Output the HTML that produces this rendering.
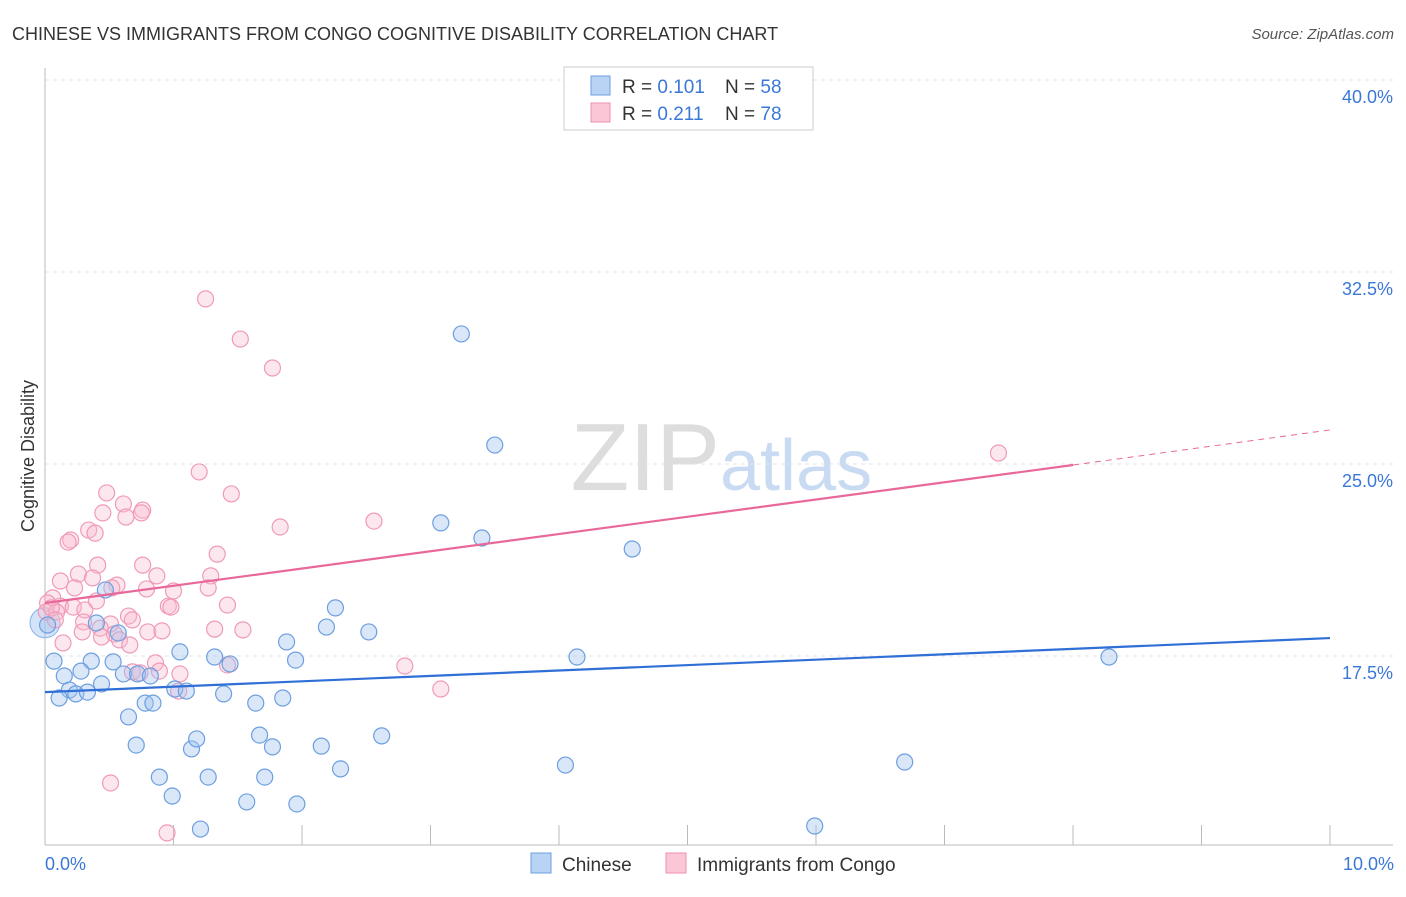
<!DOCTYPE html>
<html><head><meta charset="utf-8"><style>
body{margin:0;background:#fff;font-family:"Liberation Sans",sans-serif;}
svg text{font-family:"Liberation Sans",sans-serif;}
</style></head><body>
<svg id="chart" width="1406" height="892">
<text x="12" y="40" font-size="18" fill="#333">CHINESE VS IMMIGRANTS FROM CONGO COGNITIVE DISABILITY CORRELATION CHART</text>
<text x="1394" y="39" font-size="15" fill="#555" font-style="italic" text-anchor="end">Source: ZipAtlas.com</text>
<text x="720" y="490" font-size="96" fill="#ddd" font-family="Liberation Serif" text-anchor="end">ZIP</text>
<text x="720" y="490" font-size="72" fill="#c9dbf2">atlas</text>
<text transform="translate(34,456) rotate(-90)" font-size="18" fill="#333" text-anchor="middle">Cognitive Disability</text>
<g id="grid"></g><g id="marks"></g>
<g>
<rect x="564" y="67" width="249" height="63" fill="#fff" stroke="#ccc"/>
<rect x="591" y="76" width="19" height="19" fill="#b9d3f5" stroke="#6d9fe0"/>
<rect x="591" y="103" width="19" height="19" fill="#fbc7d6" stroke="#ee8fb0"/>
<text x="622" y="93" font-size="19" fill="#333">R = <tspan fill="#3a78d8">0.101</tspan></text>
<text x="725" y="93" font-size="19" fill="#333">N = <tspan fill="#3a78d8">58</tspan></text>
<text x="622" y="120" font-size="19" fill="#333">R = <tspan fill="#3a78d8">0.211</tspan></text>
<text x="725" y="120" font-size="19" fill="#333">N = <tspan fill="#3a78d8">78</tspan></text>
</g>
<g>
<rect x="531" y="853" width="20" height="20" fill="#b9d3f5" stroke="#6d9fe0"/>
<text x="562" y="871" font-size="19" fill="#333">Chinese</text>
<rect x="666" y="853" width="20" height="20" fill="#fbc7d6" stroke="#ee8fb0"/>
<text x="697" y="871" font-size="19" fill="#333">Immigrants from Congo</text>
</g>
<text x="45" y="870" font-size="18" fill="#3a78d8">0.0%</text>
<text x="1394" y="870" font-size="18" fill="#3a78d8" text-anchor="end">10.0%</text>
</svg>
<script>
const yTicks=[40,32.5,25,17.5];
const yTickLabels=["40.0%","32.5%","25.0%","17.5%"];
const xTicks=[0,1,2,3,4,5,6,7,8,9,10];
const blueX=[3.24,3.50,3.08,3.40,4.57,8.28,4.14,2.26,2.19,2.52,1.88,1.95,.47,.40,.57,.07,.36,.53,.15,.28,.61,.72,.82,1.05,1.32,1.44,.19,.24,.33,.44,.11,1.01,1.10,1.39,1.64,1.85,.78,.84,.65,.71,1.14,1.18,1.67,1.77,2.15,2.62,.89,1.27,1.71,2.30,4.05,6.69,.99,1.57,1.96,1.21,5.99,.02];
const blueY=[30.08,25.74,22.70,22.11,21.68,17.46,17.46,19.38,18.63,18.44,18.05,17.34,20.08,18.79,18.40,17.30,17.30,17.27,16.72,16.91,16.80,16.80,16.72,17.66,17.46,17.19,16.17,16.02,16.09,16.41,15.86,16.21,16.13,16.02,15.66,15.86,15.66,15.66,15.12,14.02,13.87,14.26,14.41,13.95,13.98,14.38,12.77,12.77,12.77,13.09,13.24,13.36,12.03,11.80,11.72,10.74,10.86,18.71];
const pinkX=[1.25,1.52,1.77,7.42,1.20,1.45,.48,.61,.76,.45,.63,.75,2.56,1.83,.34,.39,.20,.18,1.34,.41,.76,.26,.87,1.29,.37,.12,.56,.52,.23,.79,1.00,1.27,.40,.06,.12,.22,.31,.96,.98,1.42,.02,.01,.09,.65,.68,.30,.51,.43,.29,.54,.44,.80,.91,1.32,1.54,.14,.58,.66,.86,1.42,.68,.74,.89,1.05,2.80,1.04,3.08,.51,.95,.05,.08];
const pinkY=[31.45,29.88,28.75,25.43,24.69,23.83,23.87,23.44,23.20,23.09,22.93,23.09,22.77,22.54,22.42,22.30,22.03,21.95,21.48,21.05,21.05,20.70,20.63,20.63,20.55,20.43,20.27,20.16,20.16,20.12,20.04,20.16,19.65,19.77,19.45,19.41,19.30,19.45,19.41,19.49,19.57,19.22,19.22,19.06,18.91,18.83,18.75,18.59,18.44,18.36,18.24,18.44,18.48,18.55,18.52,18.01,18.13,17.93,17.23,17.15,16.88,16.84,16.91,16.80,17.11,16.13,16.21,12.54,10.59,19.38,18.91];
const blueTrend=[16.09,18.20];
const pinkTrend=[19.57,24.96,26.33];
const NS="http://www.w3.org/2000/svg";
const X=v=>45+v*128.5, Y=v=>80+(40-v)*25.6;
function mk(t,a,p){const e=document.createElementNS(NS,t);for(const k in a)e.setAttribute(k,a[k]);p.appendChild(e);return e;}
const grid=document.getElementById('grid'),marks=document.getElementById('marks');
yTicks.forEach((t,i)=>{
 const l=mk('line',{x1:45,x2:1393,y1:Y(t),y2:Y(t),stroke:'#e3e3e3','stroke-dasharray':'4,4'},grid);
 
 
 const tx=mk('text',{x:1393,y:Y(t)+23,'font-size':18,fill:'#3a78d8','text-anchor':'end'},grid);
 tx.textContent=yTickLabels[i];
 
 
});
const ax=mk('line',{x1:45,x2:45,y1:68,y2:845,stroke:'#bbb'},grid);


const bx=mk('line',{x1:45,x2:1393,y1:845,y2:845,stroke:'#bbb'},grid);


xTicks.forEach(t=>{const l=mk('line',{x1:X(t),x2:X(t),y1:825,y2:845,stroke:'#bbb'},grid);
 
 });
const big=mk('circle',{cx:X(0),cy:Y(18.8),r:15,fill:'rgba(160,195,240,0.45)',stroke:'#8ab0e6'},marks);


pinkX.forEach((x,i)=>{const c=mk('circle',{cx:X(x),cy:Y(pinkY[i]),r:8,fill:'rgba(248,185,205,0.35)',stroke:'#f09ab7','stroke-width':1.2},marks);
 
 });
blueX.forEach((x,i)=>{const c=mk('circle',{cx:X(x),cy:Y(blueY[i]),r:8,fill:'rgba(160,195,240,0.4)',stroke:'#6d9fe0','stroke-width':1.2},marks);
 
 });
const bt=mk('line',{x1:X(0),y1:Y(blueTrend[0]),x2:X(10),y2:Y(blueTrend[1]),stroke:'#2f6fd6','stroke-width':2.2},marks);


const pt=mk('line',{x1:X(0),y1:Y(pinkTrend[0]),x2:X(8),y2:Y(pinkTrend[1]),stroke:'#e8689a','stroke-width':2.2},marks);


const pd=mk('line',{x1:X(8),y1:Y(pinkTrend[1]),x2:X(10),y2:Y(pinkTrend[2]),stroke:'#e8689a','stroke-width':1,'stroke-dasharray':'6,5'},marks);


</script>
</body></html>
